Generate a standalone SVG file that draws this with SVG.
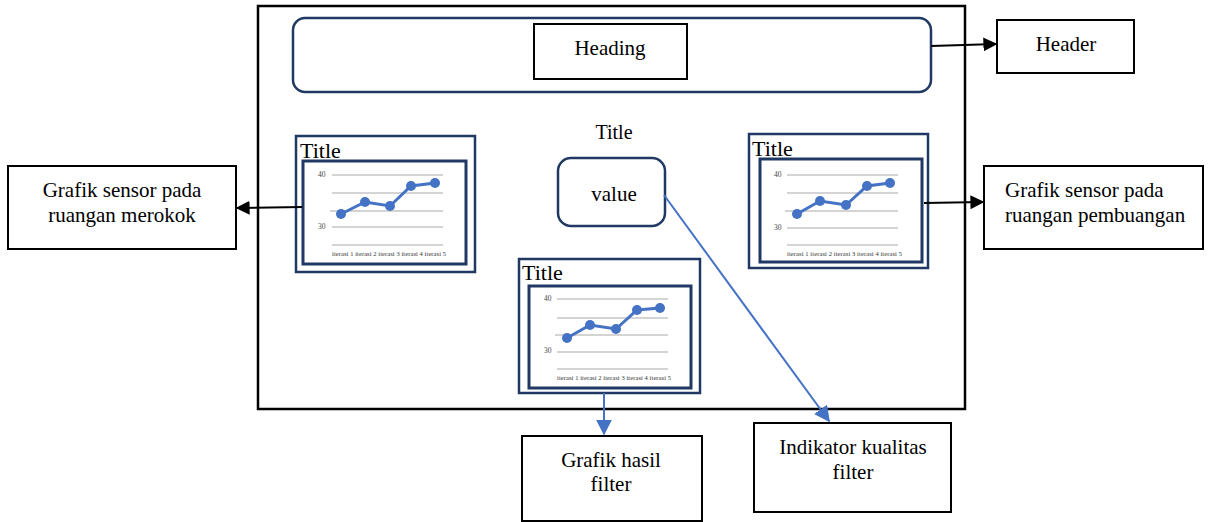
<svg xmlns="http://www.w3.org/2000/svg" width="1211" height="522" viewBox="0 0 1211 522">
<defs>
<style>
.t{font-family:"Liberation Serif","Times New Roman",serif;font-size:21px;fill:#000}
.tc{font-family:"Liberation Serif","Times New Roman",serif;font-size:20px;fill:#000}
.tt{font-family:"Liberation Serif","Times New Roman",serif;font-size:22px;fill:#000}
.ax{font-family:"Liberation Serif","Times New Roman",serif;font-size:7.5px;fill:#444}
.xl{font-family:"Liberation Serif","Times New Roman",serif;font-size:6.5px;fill:#333}
.box{fill:#fff;stroke:#000;stroke-width:2}
.navy{fill:#fff;stroke:#1f3864;stroke-width:2.5}
.navy3{fill:#fff;stroke:#1f3864;stroke-width:3}
.grid{stroke:#aaa;stroke-width:1.2}
.ser{fill:none;stroke:#4472c4;stroke-width:3}
.pt{fill:#4472c4}
.blk{stroke:#000;stroke-width:2;fill:none}
.blu{stroke:#4472c4;stroke-width:2;fill:none}
</style>
<marker id="ab" viewBox="0 0 10 10" refX="9" refY="5" markerWidth="7" markerHeight="7" orient="auto" markerUnits="strokeWidth"><path d="M0,0 L10,5 L0,10 z" fill="#000"/></marker>
<marker id="au" viewBox="0 0 10 10" refX="9" refY="5" markerWidth="8" markerHeight="8" orient="auto" markerUnits="strokeWidth"><path d="M0,0 L10,5 L0,10 z" fill="#4472c4"/></marker>
</defs>
<rect width="1211" height="522" fill="#fff"/>

<g id="frame"><rect x="258" y="6" width="707" height="403" fill="none" stroke="#000" stroke-width="2.5"/></g>

<g id="header-bar"><rect x="293" y="18" width="638" height="74" rx="12" class="navy"/></g>
<g id="heading"><rect x="534" y="24" width="153" height="55" class="box"/><text x="610" y="55" text-anchor="middle" class="t">Heading</text></g>

<g id="title"><text x="614" y="139" text-anchor="middle" class="tc">Title</text></g>
<g id="value"><rect x="558" y="158" width="107" height="68" rx="13" class="navy"/><text x="614" y="201" text-anchor="middle" class="t">value</text></g>

<g id="chart-left">
<rect x="296" y="136" width="179" height="136" class="navy"/>
<text x="300" y="158" class="tt">Title</text>
<rect x="303" y="161" width="163" height="103" class="navy3"/>
<line x1="332" y1="175" x2="443" y2="175" class="grid"/><line x1="332" y1="193" x2="443" y2="193" class="grid"/><line x1="330" y1="211" x2="443" y2="211" class="grid"/><line x1="332" y1="227" x2="443" y2="227" class="grid"/><line x1="332" y1="245" x2="443" y2="245" class="grid"/>
<text x="318" y="177" class="ax">40</text><text x="318" y="229" class="ax">30</text>
<polyline points="341,214 365,202 390,206 411,186 435,183" class="ser"/>
<circle cx="341" cy="214" r="5" class="pt"/><circle cx="365" cy="202" r="5" class="pt"/><circle cx="390" cy="206" r="5" class="pt"/><circle cx="411" cy="186" r="5" class="pt"/><circle cx="435" cy="183" r="5" class="pt"/>
<text x="332" y="256" class="xl" textLength="114">iterasi 1 iterasi 2 iterasi 3 iterasi 4 iterasi 5</text>
</g>

<g id="chart-right">
<rect x="749" y="134" width="179" height="134" class="navy"/>
<text x="752" y="156" class="tt">Title</text>
<rect x="760" y="159" width="162" height="103" class="navy3"/>
<line x1="787" y1="175" x2="898" y2="175" class="grid"/><line x1="787" y1="193" x2="898" y2="193" class="grid"/><line x1="785" y1="211" x2="898" y2="211" class="grid"/><line x1="787" y1="228" x2="898" y2="228" class="grid"/><line x1="787" y1="245" x2="898" y2="245" class="grid"/>
<text x="774" y="177" class="ax">40</text><text x="774" y="230" class="ax">30</text>
<polyline points="797,214 820,201 846,205 867,186 890,183" class="ser"/>
<circle cx="797" cy="214" r="5" class="pt"/><circle cx="820" cy="201" r="5" class="pt"/><circle cx="846" cy="205" r="5" class="pt"/><circle cx="867" cy="186" r="5" class="pt"/><circle cx="890" cy="183" r="5" class="pt"/>
<text x="787" y="256" class="xl" textLength="115">iterasi 1 iterasi 2 iterasi 3 iterasi 4 iterasi 5</text>
</g>

<g id="chart-middle">
<rect x="519" y="259" width="181" height="134" class="navy"/>
<text x="522" y="280" class="tt">Title</text>
<rect x="529" y="286" width="162" height="102" class="navy3"/>
<line x1="557" y1="299" x2="668" y2="299" class="grid"/><line x1="557" y1="318" x2="668" y2="318" class="grid"/><line x1="555" y1="335" x2="668" y2="335" class="grid"/><line x1="557" y1="352" x2="668" y2="352" class="grid"/><line x1="557" y1="369" x2="668" y2="369" class="grid"/>
<text x="544" y="301" class="ax">40</text><text x="544" y="353" class="ax">30</text>
<polyline points="567,338 590,325 616,329 637,310 660,308" class="ser"/>
<circle cx="567" cy="338" r="5" class="pt"/><circle cx="590" cy="325" r="5" class="pt"/><circle cx="616" cy="329" r="5" class="pt"/><circle cx="637" cy="310" r="5" class="pt"/><circle cx="660" cy="308" r="5" class="pt"/>
<text x="557" y="380" class="xl" textLength="114">iterasi 1 iterasi 2 iterasi 3 iterasi 4 iterasi 5</text>
</g>

<g id="label-header"><rect x="997" y="20" width="137" height="53" class="box"/><text x="1066" y="51" text-anchor="middle" class="t">Header</text></g>
<g id="label-left"><rect x="8" y="166" width="228" height="83" class="box"/><text x="122" y="197" text-anchor="middle" class="t">Grafik sensor pada</text><text x="122" y="222" text-anchor="middle" class="t">ruangan merokok</text></g>
<g id="label-right"><rect x="984" y="166" width="219" height="83" class="box"/><text x="1005" y="197" class="t">Grafik sensor pada</text><text x="1005" y="222" class="t">ruangan pembuangan</text></g>
<g id="label-filter"><rect x="522" y="436" width="180" height="85" class="box"/><text x="611" y="467" text-anchor="middle" class="t">Grafik hasil</text><text x="611" y="491" text-anchor="middle" class="t">filter</text></g>
<g id="label-indikator"><rect x="754" y="423" width="197" height="89" class="box"/><text x="853" y="454" text-anchor="middle" class="t">Indikator kualitas</text><text x="853" y="479" text-anchor="middle" class="t">filter</text></g>

<g id="connectors">
<line x1="931" y1="46" x2="996" y2="44" class="blk" marker-end="url(#ab)"/>
<line x1="302" y1="207" x2="237" y2="208" class="blk" marker-end="url(#ab)"/>
<line x1="924" y1="203" x2="983" y2="202" class="blk" marker-end="url(#ab)"/>
<line x1="604" y1="393" x2="604" y2="434" class="blu" marker-end="url(#au)"/>
<line x1="664" y1="195" x2="829" y2="421" class="blu" marker-end="url(#au)"/>
</g>
</svg>
